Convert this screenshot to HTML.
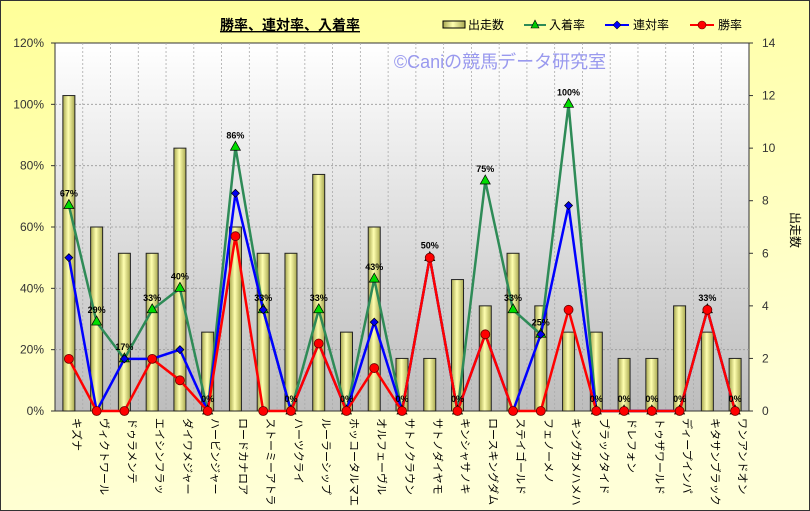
<!DOCTYPE html>
<html><head><meta charset="utf-8">
<style>
html,body{margin:0;padding:0;}
body{width:810px;height:511px;overflow:hidden;}
svg{display:block;font-family:"Liberation Sans","Noto Sans CJK JP",sans-serif;}
</style></head>
<body>
<svg id="c" width="810" height="511" xmlns="http://www.w3.org/2000/svg">
<defs>
<linearGradient id="bg" x1="0" y1="0" x2="0.3" y2="1"><stop offset="0" stop-color="#ffff99"/><stop offset="1" stop-color="#ffffd8"/></linearGradient>
<linearGradient id="pa" x1="0" y1="0" x2="0" y2="1"><stop offset="0" stop-color="#ffffff"/><stop offset="1" stop-color="#bdbdbd"/></linearGradient>
<linearGradient id="bar" x1="0" y1="0" x2="1" y2="0"><stop offset="0" stop-color="#a8a850"/><stop offset="0.45" stop-color="#ffffb0"/><stop offset="1" stop-color="#a8a850"/></linearGradient>
</defs>
<rect x="0" y="0" width="810" height="511" fill="url(#bg)" stroke="#333" stroke-width="2"/>
<rect x="55" y="43" width="694" height="368" fill="url(#pa)" stroke="#333" stroke-width="1"/>
<g id="grid"></g>
<g id="bars"></g>
<g id="lines"></g>
<text x="500" y="68" font-size="18" fill="#9999ee" text-anchor="middle">©Caniの競馬データ研究室</text>
<text x="290" y="30" font-size="14" font-weight="bold" text-anchor="middle" fill="#000" text-decoration="underline">勝率、連対率、入着率</text>
<rect x="443" y="21" width="22" height="7" fill="url(#bar)" stroke="#000"/>
<text x="468" y="29" font-size="12">出走数</text>
<line x1="524" y1="25" x2="546" y2="25" stroke="#2e8b57" stroke-width="2"/><polygon points="535,20 539,28 531,28" fill="#0c0" stroke="#000" stroke-width="0.6"/>
<text x="549" y="29" font-size="12">入着率</text>
<line x1="605" y1="25" x2="629" y2="25" stroke="#00f" stroke-width="2"/><polygon points="617,21 621,25 617,29 613,25" fill="#00f" stroke="#003" stroke-width="0.6"/>
<text x="633" y="29" font-size="12">連対率</text>
<line x1="690" y1="25" x2="714" y2="25" stroke="#f00" stroke-width="2"/><circle cx="702" cy="25" r="4" fill="#f00" stroke="#600" stroke-width="0.6"/>
<text x="718" y="29" font-size="12">勝率</text>
<text x="791" y="230" font-size="12" transform="rotate(90 791 230)" text-anchor="middle">出走数</text>
<g id="ax" font-size="12" fill="#333"></g>
</svg>
<script>
var names=["キズナ","ヴィクトワール","ドゥラメンテ","エイシンフラッ","ダイワメジャー","ハービンジャー","ロードカナロア","ストーミーアトラ","ハーツクライ","ルーラーシップ","ホッコータルマエ","オルフェーヴル","サトノクラウン","サトノダイヤモ","キンシャサノキ","ロースキングダム","ステイゴールド","フェノーメノ","キングカメハメハ","ブラックタイド","ドレフォン","トゥザワールド","ディープインパ","キタサンブラック","ワンアンドオン"];
var runs=[12,7,6,6,10,3,7,6,6,9,3,7,2,2,5,4,6,4,3,3,2,2,4,3,2];
var g=[67,29,17,33,40,0,86,33,0,33,0,43,0,50,0,75,33,25,100,0,0,0,0,33,0];
var b=[50,0,17,17,20,0,71,33,0,22,0,29,0,50,0,25,0,25,67,0,0,0,0,33,0];
var r=[17,0,0,17,10,0,57,0,0,22,0,14,0,50,0,25,0,0,33,0,0,0,0,33,0];
var NS="http://www.w3.org/2000/svg";
function el(p,t,a,txt){var e=document.createElementNS(NS,t);for(var k in a)e.setAttribute(k,a[k]);if(txt!=null)e.textContent=txt;document.getElementById(p).appendChild(e);return e;}
var W=27.76;function X(i){return 55+W*(i+0.5);}
function YP(p){return 411-p*3.0667;}function YB(n){return 411-n*26.286;}
for(var k=1;k<6;k++){var y=YP(k*20);el("grid","line",{x1:55,x2:749,y1:y,y2:y,stroke:"#999","stroke-dasharray":"2,2","stroke-width":0.8});}
for(var i=1;i<25;i++){var x=55+W*i;el("grid","line",{x1:x,x2:x,y1:43,y2:411,stroke:"#aaa","stroke-dasharray":"2,2","stroke-width":0.8});}
for(var k=0;k<=6;k++){var y=YP(k*20);el("ax","text",{x:44,y:y+4,"text-anchor":"end"},(k*20)+"%");el("ax","line",{x1:51,x2:55,y1:y,y2:y,stroke:"#333"});}
for(var k=0;k<=7;k++){var y=YB(k*2);el("ax","text",{x:762,y:y+4},""+(k*2));el("ax","line",{x1:749,x2:753,y1:y,y2:y,stroke:"#333"});}
for(var i=0;i<25;i++){var x=X(i);el("bars","rect",{x:x-6,y:YB(runs[i]),width:12,height:411-YB(runs[i]),fill:"url(#bar)",stroke:"#222","stroke-width":1});
 el("ax","text",{x:0,y:0,"font-size":11,fill:"#000",transform:"translate("+(x+4)+",418) rotate(90)"},names[i]);}
function poly(arr,col){var pts=arr.map(function(v,i){return X(i)+","+YP(v);}).join(" ");el("lines","polyline",{points:pts,fill:"none",stroke:col,"stroke-width":2.5});}
poly(g,"#2e8b57");poly(b,"#0000ff");poly(r,"#ff0000");
for(var i=0;i<25;i++){var x=X(i),y=YP(g[i]);el("lines","polygon",{points:x+","+(y-6)+" "+(x+5)+","+(y+3)+" "+(x-5)+","+(y+3),fill:"#00dd00",stroke:"#000","stroke-width":0.7});}
for(var i=0;i<25;i++){var x=X(i),y=YP(b[i]);el("lines","polygon",{points:x+","+(y-4)+" "+(x+4)+","+y+" "+x+","+(y+4)+" "+(x-4)+","+y,fill:"#0000ee",stroke:"#000","stroke-width":0.7});}
for(var i=0;i<25;i++){var x=X(i),y=YP(r[i]);el("lines","circle",{cx:x,cy:y,r:4.5,fill:"#ff0000",stroke:"#600","stroke-width":0.8});}
for(var i=0;i<25;i++){var x=X(i),y=YP(g[i]);el("lines","text",{x:x,y:y-9,"font-size":9,"font-weight":"bold","text-anchor":"middle",fill:"#000"},g[i]+"%");}
</script>
</body></html>
